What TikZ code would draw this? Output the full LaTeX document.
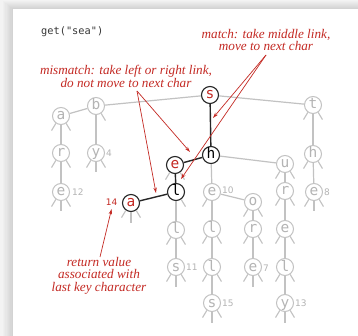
\documentclass[tikz,border=0pt]{standalone}
\usepackage{fontspec}
\setmainfont{Liberation Serif}
\newfontfamily\keyfont{DejaVu Sans Mono}
\newfontfamily\valfont{DejaVu Sans}
\usetikzlibrary{arrows.meta}

\definecolor{annot}{RGB}{196,42,36}
\definecolor{inactive}{RGB}{194,194,194}
\definecolor{inactivetext}{RGB}{180,180,180}
\definecolor{pagebg}{RGB}{243,243,243}
\definecolor{codetext}{RGB}{55,55,55}

\tikzset{
  key/.style={circle, draw=inactive, line width=1pt, fill=white,
    minimum size=17pt, inner sep=0pt, text height=8pt, text depth=0pt,
    font=\keyfont\fontsize{14.5}{14.5}\selectfont, text=inactivetext},
  onpath/.style={key, draw=black!85, line width=1.1pt, text=black},
  hit/.style={onpath, text=annot},
  link/.style={draw=inactive, line width=1.2pt},
  pathlink/.style={draw=black!85, line width=1.4pt},
  nullink/.style={draw=inactive, line width=1.1pt},
  val/.style={font=\valfont\fontsize{9}{9}\selectfont, text=inactivetext,
    inner sep=0pt, anchor=west},
  hitval/.style={val, text=annot, anchor=east},
  note/.style={font=\fontsize{13.2}{12.4}\selectfont\itshape, text=annot,
    align=center, inner sep=0pt},
  pointer/.style={draw=annot, line width=0.7pt,
    -{Stealth[length=5.5pt,width=3.4pt]}},
}

% null links below a node: left, middle, right
\newcommand\nullL[1]{\draw[nullink] (#1.235) -- ++(-4.3,7.2);}
\newcommand\nullM[1]{\draw[nullink] (#1.south) -- ++(0,10.5);}
\newcommand\nullR[1]{\draw[nullink] (#1.305) -- ++(4.3,7.2);}
\newcommand\nullLR[1]{\nullL{#1}\nullR{#1}}
\newcommand\nullAll[1]{\nullL{#1}\nullM{#1}\nullR{#1}}

\begin{document}
\begin{tikzpicture}[x=1pt, y=-1pt]
  \useasboundingbox (0,0) rectangle (358,336);

  % page with a soft shadow round the white sheet
  \fill[pagebg] (0,0) rectangle (358,336);
  \foreach \i in {1,...,8}
    \fill[black, opacity=0.014] ({13-1.3*\i},{9-1.0*\i}) rectangle (370,350);
  \fill[white] (13,9) rectangle (370,350);

  % trie nodes
  \node[hit]    (s)   at (210,95)  {s};
  \node[key]    (b)   at (96,106)  {b};
  \node[key]    (a1)  at (61,116)  {a};
  \node[key]    (t)   at (313,105) {t};
  \node[key]    (r1)  at (61,153)  {r};
  \node[key]    (y1)  at (96,153)  {y};
  \node[onpath] (h)   at (211,155) {h};
  \node[hit]    (e)   at (175,165) {e};
  \node[key]    (h2)  at (313,154) {h};
  \node[key]    (u)   at (285,164) {u};
  \node[onpath] (l)   at (176,192) {l};
  \node[key]    (e12) at (61,192)  {e};
  \node[key]    (e10) at (212,192) {e};
  \node[key]    (r3)  at (285,191) {r};
  \node[key]    (e8)  at (314,192) {e};
  \node[hit]    (a14) at (131,203) {a};
  \node[key]    (o)   at (253,202) {o};
  \node[key]    (l2)  at (176,230) {l};
  \node[key]    (l3)  at (212,229) {l};
  \node[key]    (r2)  at (253,229) {r};
  \node[key]    (e3)  at (285,229) {e};
  \node[key]    (s11) at (176,267) {s};
  \node[key]    (l4)  at (212,267) {l};
  \node[key]    (e7)  at (253,267) {e};
  \node[key]    (l5)  at (285,267) {l};
  \node[key]    (s15) at (212,303) {s};
  \node[key]    (y13) at (285,303) {y};

  % values
  \node[val] (v4)  at (106,153)   {4};
  \node[val] (v12) at (72,192.5)  {12};
  \node[val] (v10) at (222,190.5) {10};
  \node[val] (v8)  at (324,192)   {8};
  \node[val] (v11) at (186,267)   {11};
  \node[val] (v7)  at (263,268)   {7};
  \node[val] (v15) at (222,303)   {15};
  \node[val] (v13) at (295,303)   {13};
  \node[hitval] (v14) at (117.5,202.5) {14};

  % links followed by the search
  \draw[pathlink] (s) -- (h);
  \draw[pathlink] (h) -- (e);
  \draw[pathlink] (e) -- (l);
  \draw[pathlink] (l) -- (a14);

  % other links
  \draw[link] (s) -- (b);
  \draw[link] (s) -- (t);
  \draw[link] (b) -- (a1);
  \draw[link] (b) -- (y1);
  \draw[link] (a1) -- (r1);
  \draw[link] (r1) -- (e12);
  \draw[link] (t) -- (h2);
  \draw[link] (h2) -- (e8);
  \draw[link] (h) -- (e10);
  \draw[link] (h) -- (u);
  \draw[link] (e10) -- (l3);
  \draw[link] (e10) -- (o);
  \draw[link] (l3) -- (l4);
  \draw[link] (l4) -- (s15);
  \draw[link] (o) -- (r2);
  \draw[link] (r2) -- (e7);
  \draw[link] (u) -- (r3);
  \draw[link] (r3) -- (e3);
  \draw[link] (e3) -- (l5);
  \draw[link] (l5) -- (y13);
  \draw[link] (l) -- (l2);
  \draw[link] (l2) -- (s11);

  % null links
  \nullR{b}
  \nullLR{a1} \nullLR{r1} \nullAll{e12} \nullAll{y1}
  \nullLR{t} \nullLR{h2} \nullAll{e8}
  \nullLR{e} \nullR{l} \nullAll{a14}
  \nullLR{l2} \nullAll{s11}
  \nullL{e10} \nullLR{l3} \nullLR{l4} \nullAll{s15}
  \nullLR{o} \nullLR{r2} \nullAll{e7}
  \nullLR{u} \nullLR{r3} \nullLR{e3} \nullLR{l5} \nullAll{y13}

  % call and notes
  \node[font=\keyfont\fontsize{10.3}{10.3}\selectfont, text=codetext,
        anchor=west, inner sep=0pt] (call) at (41,31.5) {get("sea")};
  \node[note] (matchnote) at (266,40)
    {match: take middle link,\\move to next char};
  \node[note] (missnote) at (126,76.5)
    {mismatch: take left or right link,\\do not move to next char};
  \node[note] (retnote) at (99,275.5)
    {return value\\associated with\\last key character};

  \coordinate (matchfrom) at (266,55);
  \coordinate (missfrom)  at (137,91);
  \coordinate (retfrom)   at (100,257);
  \coordinate (midSH) at (213,118);
  \coordinate (midEL) at (181,179);
  \coordinate (sideHE) at (190,152);
  \coordinate (sideLA) at (156,193);

  \draw[pointer] (matchfrom) -- (midSH);
  \draw[pointer] (matchfrom) -- (midEL);
  \draw[pointer] (missfrom) -- (sideHE);
  \draw[pointer] (missfrom) -- (sideLA);
  \draw[pointer] (retfrom) -- ([yshift=-3pt]v14.south);
\end{tikzpicture}
\end{document}
